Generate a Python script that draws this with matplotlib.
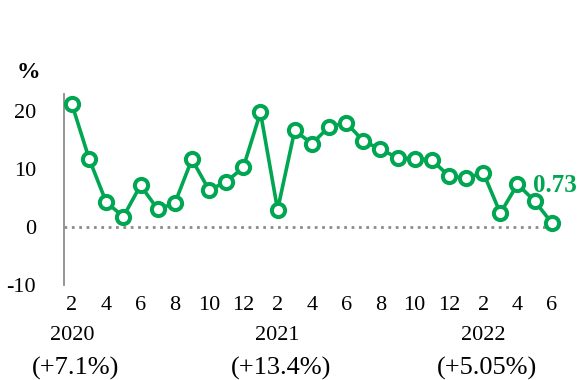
import matplotlib.pyplot as plt

plt.rcParams['font.family'] = ['Liberation Serif', 'DejaVu Serif']

# monthly growth, Feb 2020 .. Jun 2022
months = [2, 3, 4, 5, 6, 7, 8, 9, 10, 11, 12,
          1, 2, 3, 4, 5, 6, 7, 8, 9, 10, 11, 12,
          1, 2, 3, 4, 5, 6]
values = [21.2, 11.8, 4.3, 1.8, 7.2, 3.1, 4.1, 11.7, 6.4, 7.8, 10.3, 19.8,
          3.0, 16.7, 14.4, 17.3, 18.0, 14.9, 13.4, 12.0, 11.8, 11.6, 8.8, 8.4,
          9.4, 2.4, 7.4, 4.5, 0.73]
years = ['2020', '2021', '2022']
year_growth = ['(+7.1%)', '(+13.4%)', '(+5.05%)']
year_pos = [0, 12, 24]

green = '#00A651'

fig = plt.figure(figsize=(5.81, 3.80), dpi=100)
ax = fig.add_axes([0.110, 0.25, 0.850, 0.503])

xs = list(range(len(values)))
ax.axhline(0, color='#8c8c8c', lw=2.0, ls=':', zorder=1)
ax.plot(xs, values, color=green, lw=2.6, marker='o', ms=9.5,
        mfc='white', mec=green, mew=2.9, zorder=3, clip_on=False)

ax.set_xlim(-0.47, 28.35)
ax.set_ylim(-10, 23)
ax.set_yticks([-10, 0, 10, 20])
ax.set_yticklabels(['-10', '0', '10', '20'], fontsize=16)

tick_idx = [i for i in xs if months[i] % 2 == 0]
ax.set_xticks(tick_idx)
ax.set_xticklabels([str(months[i]) for i in tick_idx], fontsize=16)
ax.tick_params(axis='both', length=0)
ax.tick_params(axis='y', pad=20)
ax.tick_params(axis='x', pad=8)

for s in ['top', 'right', 'bottom']:
    ax.spines[s].set_visible(False)
ax.spines['left'].set_color('#8c8c8c')
ax.spines['left'].set_linewidth(1.3)

trans = ax.get_xaxis_transform()
for x, yr, g in zip(year_pos, years, year_growth):
    ax.text(x, -0.262, yr, transform=trans, ha='center', va='center', fontsize=16)
    ax.text(x + 0.2, -0.435, g, transform=trans, ha='center', va='center', fontsize=19)

ax.annotate(f'{values[-1]:.2f}', (xs[-1], values[-1]), xytext=(2, 27),
            textcoords='offset points', ha='center', va='center',
            fontsize=18, fontweight='bold', color=green)

fig.text(28 / 581, 1 - 72 / 380, '%', ha='center', va='center',
         fontsize=17, fontweight='bold')

fig.savefig('out.png', dpi=100)
